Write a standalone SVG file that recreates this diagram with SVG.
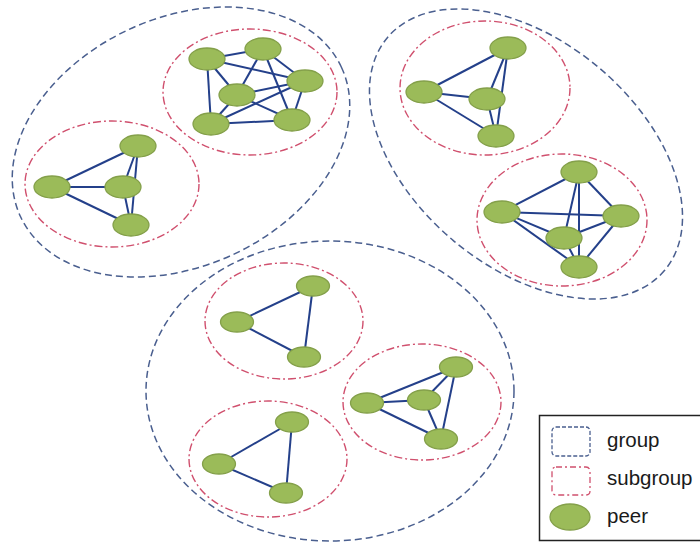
<svg xmlns="http://www.w3.org/2000/svg" width="700" height="544" viewBox="0 0 700 544">
<style>
.grp{fill:none;stroke:#4a5f8f;stroke-width:1.5;stroke-dasharray:7 4}
.sub{fill:none;stroke:#d0506e;stroke-width:1.4;stroke-dasharray:8 3 2 3}
.e line{stroke:#24408a;stroke-width:2}
.p{fill:#9bbb59;stroke:#84a04a;stroke-width:1.3}
.lt{font-family:"Liberation Sans",Arial,sans-serif;font-size:20.5px;fill:#1a1a1a}
</style>
<rect width="700" height="544" fill="#fff"/>

<g id="groups">
<ellipse id="group-tl" class="grp" cx="181" cy="142" rx="177" ry="124" transform="rotate(-25 181 142)"/>
<ellipse id="group-tr" class="grp" cx="526" cy="154" rx="181" ry="113" transform="rotate(40 526 154)"/>
<ellipse id="group-b" class="grp" cx="330" cy="391" rx="184" ry="150"/>
</g>

<g id="subgroups">
<ellipse id="sub-a" class="sub" cx="250" cy="92" rx="87" ry="63"/>
<ellipse id="sub-b" class="sub" cx="112" cy="184" rx="87" ry="63"/>
<ellipse id="sub-c" class="sub" cx="485" cy="88" rx="85" ry="67"/>
<ellipse id="sub-d" class="sub" cx="562" cy="220" rx="85" ry="66"/>
<ellipse id="sub-e" class="sub" cx="284" cy="321" rx="79" ry="58"/>
<ellipse id="sub-f" class="sub" cx="422" cy="402" rx="79" ry="58"/>
<ellipse id="sub-g" class="sub" cx="268" cy="459" rx="79" ry="58"/>
</g>

<g id="connectors" class="e">
<line x1="207" y1="59" x2="263" y2="49"/>
<line x1="207" y1="59" x2="211" y2="124"/>
<line x1="207" y1="59" x2="237" y2="95"/>
<line x1="207" y1="59" x2="305" y2="81"/>
<line x1="263" y1="49" x2="237" y2="95"/>
<line x1="263" y1="49" x2="305" y2="81"/>
<line x1="263" y1="49" x2="292" y2="120"/>
<line x1="305" y1="81" x2="292" y2="120"/>
<line x1="237" y1="95" x2="305" y2="81"/>
<line x1="237" y1="95" x2="292" y2="120"/>
<line x1="237" y1="95" x2="211" y2="124"/>
<line x1="211" y1="124" x2="305" y2="81"/>
<line x1="211" y1="124" x2="292" y2="120"/>
<line x1="52" y1="187" x2="138" y2="146"/>
<line x1="52" y1="187" x2="123" y2="187"/>
<line x1="52" y1="187" x2="131" y2="225"/>
<line x1="138" y1="146" x2="123" y2="187"/>
<line x1="138" y1="146" x2="131" y2="225"/>
<line x1="123" y1="187" x2="131" y2="225"/>
<line x1="424" y1="92" x2="508" y2="48"/>
<line x1="424" y1="92" x2="487" y2="99"/>
<line x1="424" y1="92" x2="496" y2="136"/>
<line x1="508" y1="48" x2="487" y2="99"/>
<line x1="508" y1="48" x2="496" y2="136"/>
<line x1="487" y1="99" x2="496" y2="136"/>
<line x1="502" y1="212" x2="579" y2="172"/>
<line x1="502" y1="212" x2="621" y2="216"/>
<line x1="502" y1="212" x2="564" y2="238"/>
<line x1="502" y1="212" x2="579" y2="267"/>
<line x1="579" y1="172" x2="564" y2="238"/>
<line x1="579" y1="172" x2="579" y2="267"/>
<line x1="579" y1="172" x2="621" y2="216"/>
<line x1="621" y1="216" x2="564" y2="238"/>
<line x1="621" y1="216" x2="579" y2="267"/>
<line x1="564" y1="238" x2="579" y2="267"/>
<line x1="237" y1="322" x2="313" y2="286"/>
<line x1="237" y1="322" x2="304" y2="357"/>
<line x1="313" y1="286" x2="304" y2="357"/>
<line x1="367" y1="403" x2="456" y2="367"/>
<line x1="367" y1="403" x2="424" y2="400"/>
<line x1="367" y1="403" x2="441" y2="439"/>
<line x1="456" y1="367" x2="424" y2="400"/>
<line x1="456" y1="367" x2="441" y2="439"/>
<line x1="424" y1="400" x2="441" y2="439"/>
<line x1="219" y1="464" x2="292" y2="422"/>
<line x1="219" y1="464" x2="286" y2="493"/>
<line x1="292" y1="422" x2="286" y2="493"/>
</g>

<g id="a1"><ellipse class="p" cx="207" cy="59" rx="18" ry="11"/></g>
<g id="a2"><ellipse class="p" cx="263" cy="49" rx="18" ry="11"/></g>
<g id="a3"><ellipse class="p" cx="305" cy="81" rx="18" ry="11"/></g>
<g id="a4"><ellipse class="p" cx="237" cy="95" rx="18" ry="11"/></g>
<g id="a5"><ellipse class="p" cx="211" cy="124" rx="18" ry="11"/></g>
<g id="a6"><ellipse class="p" cx="292" cy="120" rx="18" ry="11"/></g>

<g id="b1"><ellipse class="p" cx="138" cy="146" rx="18" ry="11"/></g>
<g id="b2"><ellipse class="p" cx="52" cy="187" rx="18" ry="11"/></g>
<g id="b3"><ellipse class="p" cx="123" cy="187" rx="18" ry="11"/></g>
<g id="b4"><ellipse class="p" cx="131" cy="225" rx="18" ry="11"/></g>

<g id="c1"><ellipse class="p" cx="508" cy="48" rx="18" ry="11"/></g>
<g id="c2"><ellipse class="p" cx="424" cy="92" rx="18" ry="11"/></g>
<g id="c3"><ellipse class="p" cx="487" cy="99" rx="18" ry="11"/></g>
<g id="c4"><ellipse class="p" cx="496" cy="136" rx="18" ry="11"/></g>

<g id="d1"><ellipse class="p" cx="579" cy="172" rx="18" ry="11"/></g>
<g id="d2"><ellipse class="p" cx="502" cy="212" rx="18" ry="11"/></g>
<g id="d3"><ellipse class="p" cx="621" cy="216" rx="18" ry="11"/></g>
<g id="d4"><ellipse class="p" cx="564" cy="238" rx="18" ry="11"/></g>
<g id="d5"><ellipse class="p" cx="579" cy="267" rx="18" ry="11"/></g>

<g id="e1"><ellipse class="p" cx="313" cy="286" rx="16.5" ry="10"/></g>
<g id="e2"><ellipse class="p" cx="237" cy="322" rx="16.5" ry="10"/></g>
<g id="e3"><ellipse class="p" cx="304" cy="357" rx="16.5" ry="10"/></g>

<g id="f1"><ellipse class="p" cx="456" cy="367" rx="16.5" ry="10"/></g>
<g id="f2"><ellipse class="p" cx="367" cy="403" rx="16.5" ry="10"/></g>
<g id="f3"><ellipse class="p" cx="424" cy="400" rx="16.5" ry="10"/></g>
<g id="f4"><ellipse class="p" cx="441" cy="439" rx="16.5" ry="10"/></g>

<g id="g1"><ellipse class="p" cx="292" cy="422" rx="16.5" ry="10"/></g>
<g id="g2"><ellipse class="p" cx="219" cy="464" rx="16.5" ry="10"/></g>
<g id="g3"><ellipse class="p" cx="286" cy="493" rx="16.5" ry="10"/></g>

<g id="legend">
<rect x="539.5" y="415.5" width="170" height="125" fill="#fff" stroke="#222" stroke-width="1.5"/>
<rect x="552" y="427" width="38" height="29" rx="4" fill="none" stroke="#4a5f8f" stroke-width="1.3" stroke-dasharray="4 2"/>
<rect x="552" y="467" width="38" height="28" rx="4" fill="none" stroke="#d0506e" stroke-width="1.3" stroke-dasharray="6 3 2 3"/>
<ellipse class="p" cx="570" cy="517" rx="20" ry="13"/>
<text class="lt" x="607" y="447">group</text>
<text class="lt" x="607" y="485">subgroup</text>
<text class="lt" x="607" y="523">peer</text>
</g>
</svg>
